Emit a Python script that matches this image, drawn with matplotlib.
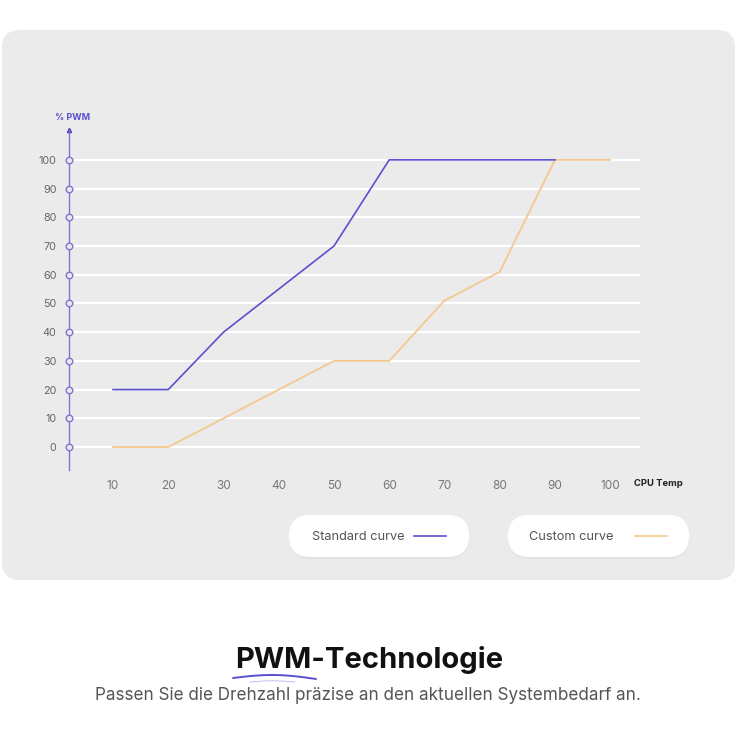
import matplotlib.pyplot as plt
from matplotlib.patches import FancyBboxPatch
import numpy as np

plt.rcParams['font.family'] = ['Inter', 'DejaVu Sans']

# data
cpu_temp_std = [10, 20, 30, 40, 50, 60, 70, 80, 90]
pwm_std = [20, 20, 40, 55, 70, 100, 100, 100, 100]
cpu_temp_custom = [10, 20, 30, 40, 50, 60, 70, 80, 90, 100]
pwm_custom = [0, 0, 10, 20, 30, 30, 51, 61, 100, 100]
x_ticks = [10, 20, 30, 40, 50, 60, 70, 80, 90, 100]
y_ticks = [0, 10, 20, 30, 40, 50, 60, 70, 80, 90, 100]

PURPLE = '#5b50d0'
ORANGE = '#f4c88e'
PANEL = '#ebebeb'
W = H = 736

fig = plt.figure(figsize=(7.36, 7.36), dpi=100)
fig.patch.set_facecolor('white')

# overlay in pixel coordinates for panel, legend pills and captions
bg = fig.add_axes([0, 0, 1, 1])
bg.set_xlim(0, W)
bg.set_ylim(H, 0)
bg.axis('off')
bg.set_zorder(0)

bg.add_patch(FancyBboxPatch((2 + 18, 30 + 18), 733 - 36, 550 - 36,
                            boxstyle='round,pad=18', fc=PANEL, ec='none'))

# legend pills
for x0, x1, label, color, tx, lx0, lx1 in [
        (289, 469, 'Standard curve', PURPLE, 312, 414, 446),
        (508, 689, 'Custom curve', ORANGE, 529, 635, 667)]:
    r = 21
    bg.add_patch(FancyBboxPatch((x0 + r, 517 + r), x1 - x0 - 2 * r, 42 - 2 * r,
                                boxstyle='round,pad=21', fc='#e3e3e3', ec='none'))
    bg.add_patch(FancyBboxPatch((x0 + r, 515 + r), x1 - x0 - 2 * r, 42 - 2 * r,
                                boxstyle='round,pad=21', fc='white', ec='none'))
    bg.text(tx, 537, label, fontsize=9.2, color='#555555', va='center', ha='left')
    bg.plot([lx0, lx1], [536, 536], color=color, lw=1.2)

# captions
bg.text(369, 668, 'PWM-Technologie', fontsize=21, fontweight='bold',
        color='#111111', ha='center', va='baseline')
bg.text(368, 700, 'Passen Sie die Drehzahl präzise an den aktuellen Systembedarf an.',
        fontsize=12.3, color='#555555', ha='center', va='baseline')
sx = np.linspace(233, 316, 40)
t = (sx - 233) / 83
bg.plot(sx, 678 - 3.5 * np.sin(t * np.pi) + 1.0 * t,
        color=PURPLE, lw=1.4, solid_capstyle='round')
sx2 = np.linspace(250, 295, 20)
bg.plot(sx2, 682 - 1.2 * np.sin((sx2 - 250) / 45 * np.pi),
        color='#8d86dd', lw=0.6, alpha=0.6)

# chart
ax = fig.add_axes([69 / W, (H - 470) / H, (640 - 69) / W, (470 - 130) / H])
ax.set_zorder(1)
ax.patch.set_alpha(0)
ax.set_xlim(2.03, 105.4)
ax.set_ylim(-8, 110.4)

for y in y_ticks:
    ax.axhline(y, xmin=0.01, xmax=1, color='white', lw=1.5, zorder=1)

ax.plot(cpu_temp_custom, pwm_custom, color=ORANGE, lw=1.3, zorder=3)
ax.plot(cpu_temp_std, pwm_std, color=PURPLE, lw=1.2, zorder=4)

for s in ['top', 'right', 'bottom']:
    ax.spines[s].set_visible(False)
ax.spines['left'].set_color('#7d74d6')
ax.spines['left'].set_linewidth(1.0)
ax.plot(0, 1, '^', color='#4a40b8', ms=3, transform=ax.transAxes, clip_on=False)
ax.scatter([0] * len(y_ticks), y_ticks, s=22, facecolor=PANEL, edgecolor='#7d74d6',
           lw=1.0, transform=ax.get_yaxis_transform(), clip_on=False, zorder=5)

ax.set_yticks(y_ticks)
ax.set_xticks(x_ticks)
ax.tick_params(axis='y', length=0, pad=9, labelsize=7.8, labelcolor='#666666')
ax.tick_params(axis='x', length=0, pad=7, labelsize=8.5, labelcolor='#777777')

bg.text(55, 118, '% PWM', fontsize=6.5, fontweight='bold', color=PURPLE, va='center')
bg.text(634, 484, 'CPU Temp', fontsize=6.8, fontweight='bold', color='#222222', va='center')

fig.savefig('out.png', dpi=100, facecolor='white')
